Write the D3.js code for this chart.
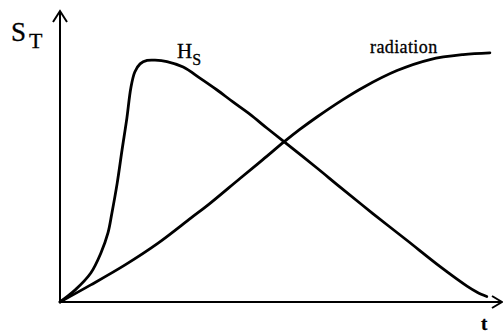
<!DOCTYPE html>
<html>
    <head>
        <meta charset="utf-8">
        <title>S_T over time</title>
        <script src="https://d3js.org/d3.v7.min.js"></script>
        <style>
         html, body {
             margin: 0;
             padding: 0;
             background-color: white;
         }
         svg text {
             font-family: "Liberation Serif", "DejaVu Serif", serif;
             fill: black;
             stroke: black;
             stroke-width: 0.3;
         }
        </style>
    </head>
    <body>
        <div id="plot"></div>
        <script>
         // H_S curve (time, value)
         const hsTime  = [0, 0.34, 0.70, 0.93, 1.09, 1.18, 1.30, 1.41, 1.52, 1.61, 1.70, 1.82, 1.98, 2.16, 2.43, 2.80, 3.18, 3.57, 3.93, 4.32, 4.70, 5.09, 5.84, 6.36, 7.11, 7.89, 8.64, 9.25, 9.48, 9.70]
         const hsValue = [0, 0.41, 1.00, 1.69, 2.38, 3.07, 4.10, 5.24, 6.34, 7.38, 7.93, 8.21, 8.33, 8.34, 8.29, 8.10, 7.72, 7.31, 6.90, 6.47, 6.00, 5.53, 4.62, 3.97, 3.05, 2.12, 1.22, 0.55, 0.34, 0.19]

         // radiation curve
         const radTime  = [0, 0.70, 1.48, 2.23, 2.98, 3.36, 4.09, 4.61, 5.09, 5.45, 5.84, 6.43, 6.89, 7.66, 8.41, 9.16, 9.77]
         const radValue = [0, 0.59, 1.28, 2.03, 2.90, 3.34, 4.26, 4.91, 5.52, 5.95, 6.38, 6.98, 7.40, 7.98, 8.36, 8.53, 8.59]

         const xDomain = [0, 10]
         const yDomain = [0, 10]

         const width = 503, height = 334
         const margin = {top: 12, right: 3, bottom: 32, left: 60}

         const svg = d3.select("#plot")
                       .append("svg")
                       .attr("width", width)
                       .attr("height", height)

         const x = d3.scaleLinear()
                     .domain(xDomain)
                     .range([margin.left, width - margin.right])
         const y = d3.scaleLinear()
                     .domain(yDomain)
                     .range([height - margin.bottom, margin.top])

         // axes: plain lines with open arrow heads
         const x0 = x(0), y0 = y(0)
         const yTop = y(yDomain[1]) - 1
         const xEnd = x(xDomain[1]) + 2
         svg.append("path")
            .attr("d", `M${x0},${y0}V${yTop}M${x0 - 7},${yTop + 11}L${x0},${yTop}L${x0 + 7},${yTop + 11}`)
            .attr("fill", "none")
            .attr("stroke", "black")
            .attr("stroke-width", 2)
         svg.append("path")
            .attr("d", `M${x0},${y0}H${xEnd}M${xEnd - 10},${y0 - 6}L${xEnd},${y0}L${xEnd - 10},${y0 + 6}`)
            .attr("fill", "none")
            .attr("stroke", "black")
            .attr("stroke-width", 2)

         const line = d3.line()
                        .x(d => x(d[0]))
                        .y(d => y(d[1]))
                        .curve(d3.curveCatmullRom.alpha(0.5))

         svg.append("path")
            .datum(d3.zip(hsTime, hsValue))
            .attr("fill", "none")
            .attr("stroke", "black")
            .attr("stroke-width", 2.8)
            .attr("stroke-linecap", "round")
            .attr("d", line)
         svg.append("path")
            .datum(d3.zip(radTime, radValue))
            .attr("fill", "none")
            .attr("stroke", "black")
            .attr("stroke-width", 2.8)
            .attr("stroke-linecap", "round")
            .attr("d", line)

         // labels
         const st = svg.append("text").attr("x", 11).attr("y", 41)
         st.append("tspan").attr("font-size", 27).text("S")
         st.append("tspan").attr("font-size", 22).attr("dx", 3).attr("dy", 7).text("T")

         const hs = svg.append("text").attr("x", 177).attr("y", 58)
         hs.append("tspan").attr("font-size", 21).text("H")
         hs.append("tspan").attr("font-size", 16).attr("dy", 7).text("S")

         svg.append("text")
            .attr("x", 370).attr("y", 53)
            .attr("font-size", 18)
            .attr("letter-spacing", 0.4)
            .text("radiation")

         svg.append("text")
            .attr("x", 481).attr("y", 330)
            .attr("font-size", 19)
            .attr("font-weight", "bold")
            .text("t")
        </script>
    </body>
</html>
